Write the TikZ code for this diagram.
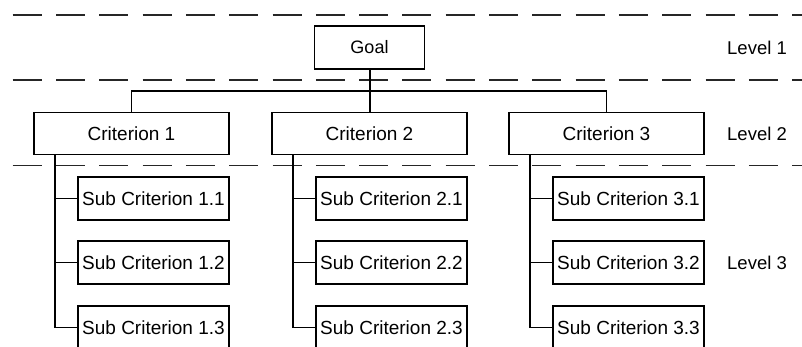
\documentclass[tikz,border=0pt]{standalone}
\usepackage{fontspec}
\setmainfont{Liberation Sans}
\usetikzlibrary{calc}

\tikzset{
  box/.style={draw=black, line width=1.1pt, rectangle, inner sep=0pt,
              font=\fontsize{18}{20}\selectfont},
  goalbox/.style={box, minimum width=110pt, minimum height=43pt},
  critbox/.style={box, minimum width=195pt, minimum height=42pt,
                  font=\fontsize{19}{21}\selectfont},
  subbox/.style={box, minimum width=151pt, minimum height=43pt,
                 font=\fontsize{19}{21}\selectfont},
  levellabel/.style={anchor=west, inner sep=0pt, font=\fontsize{18.5}{20}\selectfont},
  levelline/.style={draw=black!85, line width=1.3pt, dash pattern=on 29pt off 14.3pt},
  trunk/.style={draw=black, line width=2pt},
  branch/.style={draw=black, line width=1.2pt},
}

\begin{document}
\begin{tikzpicture}[x=1pt, y=-1pt]
  \clip (0,0) rectangle (802,347);
  \fill[white] (0,0) rectangle (802,347);

  % dashed separators between the levels
  \draw[levelline] (12.7,15) -- (802,15);
  \draw[levelline] (12.7,80) -- (802,80);
  \draw[levelline] (12.7,165.5) -- (802,165.5);

  % level 1
  \node[goalbox] (goal) at (369.5,47.5) {Goal};

  % level 2
  \node[critbox] (c1) at (131.5,133.5) {Criterion 1};
  \node[critbox] (c2) at (369.5,133.5) {Criterion 2};
  \node[critbox] (c3) at (606.5,133.5) {Criterion 3};

  % level 3
  \foreach \c/\x in {1/131.5, 2/369.5, 3/606.5} {
    \node[subbox] (s\c1) at (\x+22,198.5) {Sub Criterion \c.1};
    \node[subbox] (s\c2) at (\x+22,262.5) {Sub Criterion \c.2};
    \node[subbox] (s\c3) at (\x+22,327.5) {Sub Criterion \c.3};
  }

  % level labels
  \node[levellabel] (l1) at (727,47.5) {Level 1};
  \node[levellabel] (l2) at (727,133.5) {Level 2};
  \node[levellabel] (l3) at (727,262.5) {Level 3};

  % goal to criteria
  \coordinate (bus) at (369.5,91);
  \draw[branch] (c1.north) |- (bus) -| (c3.north);
  \draw[trunk] (goal.south) -- (c2.north);

  % criteria to sub criteria
  \foreach \c in {1,2,3} {
    \coordinate (t\c) at ($(c\c.south west)+(22,0)$);
    \draw[trunk] (t\c) -- (t\c |- s\c3.west);
    \draw[branch] (t\c |- s\c1.west) -- (s\c1.west);
    \draw[branch] (t\c |- s\c2.west) -- (s\c2.west);
    \draw[branch] (t\c |- s\c3.west) -- (s\c3.west);
  }
\end{tikzpicture}
\end{document}
